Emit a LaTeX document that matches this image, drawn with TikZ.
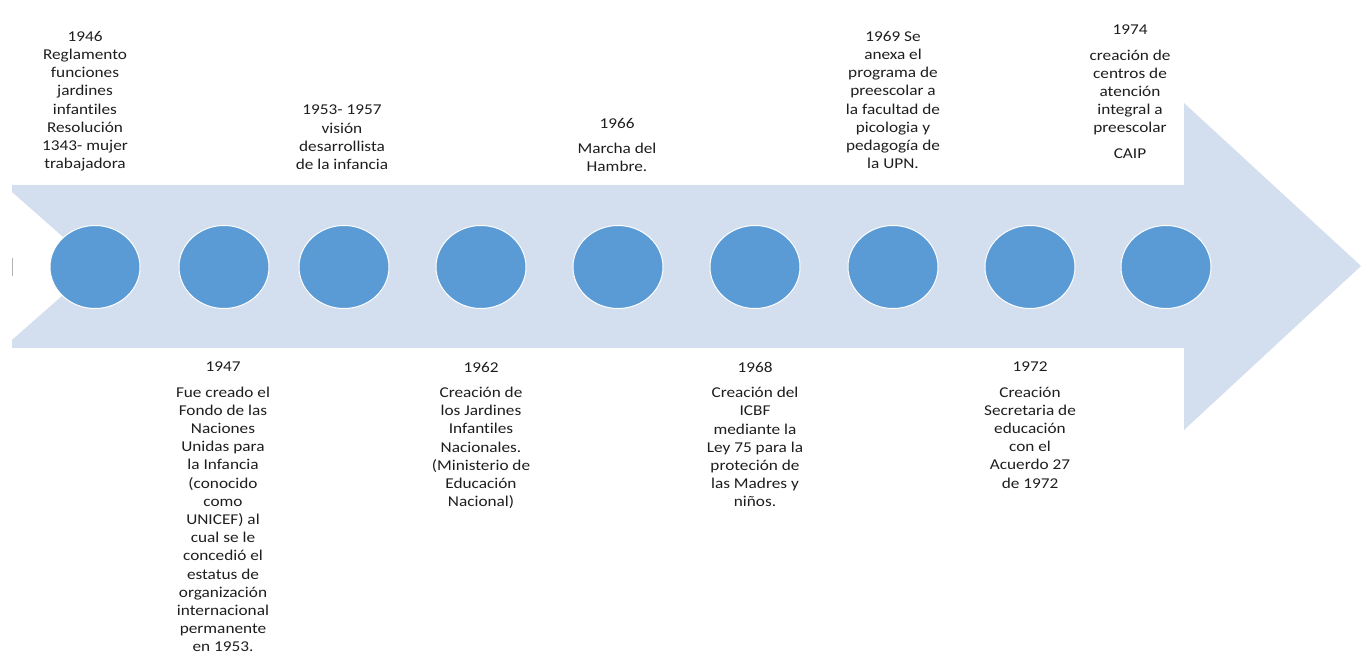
\documentclass[tikz,border=0pt]{standalone}
\usepackage{fontspec}
\setmainfont{Carlito}[FakeStretch=1.15, Ligatures={NoCommon}]
\usetikzlibrary{shapes.geometric}
\definecolor{band}{HTML}{D3DEEF}
\definecolor{dot}{HTML}{5B9BD5}
\definecolor{ink}{HTML}{1E1E1E}
\tikzset{
  dotnode/.style={ellipse, fill=dot, draw=white, line width=1pt,
    minimum width=90pt, minimum height=83pt, inner sep=0pt},
  lbl/.style={align=center, anchor=north, inner sep=0pt, text=ink,
    font=\fontsize{15}{18.2}\selectfont},
}
\begin{document}
\begin{tikzpicture}[x=1pt, y=-1pt]
\useasboundingbox (0,0) rectangle (1361,660);

% notched block arrow
\fill[band] (12,185) -- (1184,185) -- (1184,103) -- (1361,266)
  -- (1184,430) -- (1184,348) -- (12,348) -- (12,340) -- (96,266)
  -- (12,192) -- cycle;
\draw[black!30, line width=0.8pt] (12,258) -- (12,276);

% milestones on the arrow
\foreach \n/\x in {a/95, b/224, c/344, d/481, e/618, f/755, g/893, h/1030, i/1166}
  \node[dotnode] (\n) at (\x,267) {};

% labels above the arrow
\node[lbl] (t1946) at (85,31) {1946\\Reglamento\\funciones\\jardines\\infantiles\\Resolución\\1343- mujer\\trabajadora};
\node[lbl] (t1953) at (342,105) {1953- 1957\\visión\\desarrollista\\de la infancia};
\node[lbl] (t1966) at (617,118) {1966\\[7pt]Marcha del\\Hambre.};
\node[lbl] (t1969) at (893,31) {1969 Se\\anexa el\\programa de\\preescolar a\\la facultad de\\picologia y\\pedagogía de\\la UPN.};
\node[lbl] (t1974) at (1130,25) {1974\\[7pt]creación de\\centros de\\atención\\integral a\\preescolar\\[7pt]CAIP};

% labels below the arrow
\node[lbl] (t1947) at (223,362) {1947\\[7pt]Fue creado el\\Fondo de las\\Naciones\\Unidas para\\la Infancia\\(conocido\\como\\UNICEF) al\\cual se le\\concedió el\\estatus de\\organización\\internacional\\permanente\\en 1953.};
\node[lbl] (t1962) at (481,362) {1962\\[7pt]Creación de\\los Jardines\\Infantiles\\Nacionales.\\(Ministerio de\\Educación\\Nacional)};
\node[lbl] (t1968) at (755,362) {1968\\[7pt]Creación del\\ICBF\\mediante la\\Ley 75 para la\\proteción de\\las Madres y\\niños.};
\node[lbl] (t1972) at (1030,362) {1972\\[7pt]Creación\\Secretaria de\\educación\\con el\\Acuerdo 27\\de 1972};
\end{tikzpicture}
\end{document}
